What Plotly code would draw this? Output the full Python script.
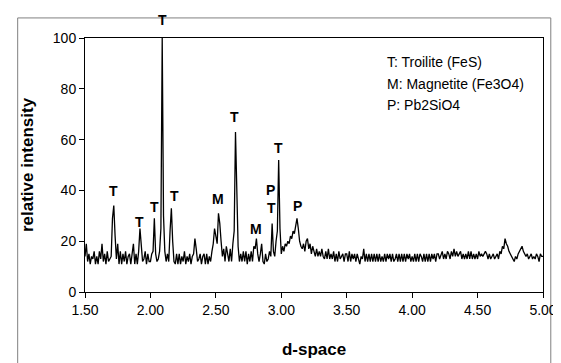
import plotly.graph_objects as go

# d-space sampling grid (step 0.01 from 1.50 to 5.00)
d_start = 1.50
d_step = 0.01

# relative intensity, one row per 0.1 of d-space
intensity = [
    14, 19, 12, 15, 11, 14, 13, 16, 11, 14,   # 1.50
    11, 16, 13, 19, 12, 15, 11, 16, 12, 13,   # 1.60
    14, 29, 34, 22, 13, 19, 11, 16, 11, 15,   # 1.70
    12, 16, 11, 14, 15, 11, 16, 19, 11, 15,   # 1.80
    11, 16, 25, 17, 12, 13, 16, 11, 15, 12,   # 1.90
    12, 15, 16, 29, 15, 12, 13, 16, 25, 100,  # 2.00
    30, 16, 12, 15, 12, 24, 33, 20, 12, 11,   # 2.10
    15, 11, 15, 11, 14, 12, 16, 11, 14, 12,   # 2.20
    15, 11, 14, 15, 21, 17, 12, 13, 15, 11,   # 2.30
    14, 15, 11, 15, 11, 14, 12, 16, 19, 25,   # 2.40
    22, 19, 31, 27, 20, 14, 17, 12, 18, 15,   # 2.50
    12, 17, 12, 19, 24, 63, 40, 18, 12, 15,   # 2.60
    12, 16, 12, 16, 11, 15, 12, 16, 12, 18,   # 2.70
    17, 21, 15, 12, 15, 19, 12, 11, 15, 12,   # 2.80
    13, 16, 14, 27, 16, 14, 20, 24, 52, 25,   # 2.90
    15, 18, 16, 19, 18, 20, 19, 22, 21, 24,   # 3.00
    23, 26, 29, 25, 20, 18, 17, 19, 16, 20,   # 3.10
    21, 17, 19, 15, 18, 16, 14, 17, 14, 16,   # 3.20
    14, 17, 14, 13, 16, 13, 17, 13, 15, 13,   # 3.30
    16, 12, 15, 12, 16, 13, 14, 15, 12, 15,   # 3.40
    15, 12, 16, 12, 15, 13, 15, 12, 15, 13,   # 3.50
    11, 14, 13, 17, 12, 15, 12, 15, 12, 15,   # 3.60
    12, 15, 12, 15, 12, 15, 12, 14, 12, 15,   # 3.70
    12, 15, 13, 15, 12, 15, 12, 13, 15, 12,   # 3.80
    15, 12, 15, 12, 15, 12, 15, 13, 15, 12,   # 3.90
    14, 12, 15, 12, 15, 12, 15, 14, 12, 15,   # 4.00
    12, 15, 12, 15, 12, 15, 13, 15, 12, 15,   # 4.10
    15, 13, 15, 16, 13, 15, 13, 16, 15, 13,   # 4.20
    16, 14, 17, 14, 16, 14, 15, 16, 13, 15,   # 4.30
    13, 15, 13, 16, 13, 16, 13, 15, 13, 15,   # 4.40
    13, 16, 14, 15, 14, 15, 16, 15, 13, 15,   # 4.50
    13, 14, 15, 13, 14, 15, 13, 16, 15, 18,   # 4.60
    17, 21, 19, 18, 16, 15, 14, 13, 12, 14,   # 4.70
    13, 15, 16, 17, 18, 16, 15, 14, 15, 13,   # 4.80
    14, 15, 13, 14, 13, 15, 14, 12, 15, 14,   # 4.90
    14,                                       # 5.00
]
d_space = [round(d_start + i * d_step, 2) for i in range(len(intensity))]

# phase labels on peaks
label_text = ["T", "T", "T", "T", "M", "T", "M", "P", "T", "T", "P"]
label_d = [1.717, 1.917, 2.034, 2.183, 2.514, 2.644, 2.805, 2.921, 2.923, 2.980, 3.126]
label_i = [39.9, 27.5, 33.4, 37.8, 36.6, 68.8, 24.7, 40.0, 32.9, 56.8, 34.0]
# label of the tallest peak sits above the plot frame
top_label_d = 2.09

legend_lines = ["T: Troilite (FeS)", "M: Magnetite (Fe3O4)", "P: Pb2SiO4"]

FONT = "Liberation Sans, Arial, sans-serif"

fig = go.Figure()
fig.add_trace(go.Scatter(
    x=d_space, y=intensity, mode="lines",
    line=dict(color="black", width=1.3),
    showlegend=False, hoverinfo="skip",
))

annotations = []
for t, xv, yv in zip(label_text, label_d, label_i):
    annotations.append(dict(
        x=xv, y=yv, xref="x", yref="y", text="<b>" + t + "</b>", showarrow=False,
        font=dict(family=FONT, size=14, color="black"),
        xanchor="center", yanchor="middle",
    ))
annotations.append(dict(
    x=top_label_d, y=1.071, xref="x", yref="paper", text="<b>T</b>", showarrow=False,
    font=dict(family=FONT, size=14, color="black"),
    xanchor="center", yanchor="middle",
))

legend_y = [0.905, 0.82, 0.737]
for t, yv in zip(legend_lines, legend_y):
    annotations.append(dict(
        x=0.656, y=yv, xref="paper", yref="paper", text=t, showarrow=False,
        font=dict(family=FONT, size=14, color="black"),
        xanchor="left", yanchor="middle",
    ))

fig.update_layout(
    width=561, height=363,
    margin=dict(l=77, r=15, t=30, b=79),
    paper_bgcolor="white", plot_bgcolor="white",
    font=dict(family=FONT, size=14, color="black"),
    annotations=annotations,
    shapes=[dict(
        type="rect", xref="paper", yref="paper",
        x0=-0.147, x1=1.017, y0=-0.32, y1=1.079,
        line=dict(color="#808080", width=1), fillcolor="rgba(0,0,0,0)",
        layer="below",
    )],
)
fig.update_xaxes(
    range=[1.5, 5.0], tickvals=[1.5, 2.0, 2.5, 3.0, 3.5, 4.0, 4.5, 5.0],
    tickformat=".2f", ticks="outside", ticklen=5, tickcolor="black",
    showline=True, linecolor="black", linewidth=1, mirror=True,
    showgrid=False, zeroline=False,
    tickfont=dict(family=FONT, size=14),
    title=dict(text="<b>d-space</b>", font=dict(family=FONT, size=17), standoff=26),
)
fig.update_yaxes(
    range=[0, 100], tickvals=[0, 20, 40, 60, 80, 100],
    ticks="outside", ticklen=5, tickcolor="black",
    showline=True, linecolor="black", linewidth=1, mirror=True,
    showgrid=False, zeroline=False,
    tickfont=dict(family=FONT, size=14),
    title=dict(text="<b>relative intensity</b>", font=dict(family=FONT, size=17), standoff=14),
)

fig.write_html("out.html")
